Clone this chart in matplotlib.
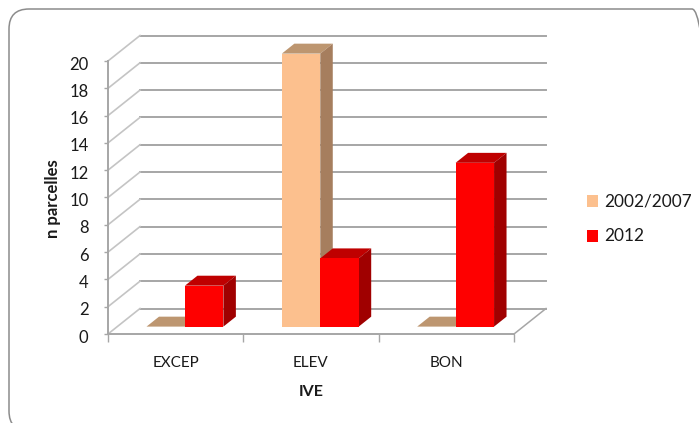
import matplotlib
matplotlib.use("Agg")
import matplotlib.pyplot as plt
from matplotlib.patches import FancyBboxPatch, Polygon, Rectangle
from matplotlib.transforms import IdentityTransform, ScaledTranslation

categories = ["EXCEP", "ELEV", "BON"]
series_names = ["2002/2007", "2012"]
values_2002 = [0, 20, 0]
values_2012 = [3, 5, 12]
y_ticks = [0, 2, 4, 6, 8, 10, 12, 14, 16, 18, 20]

W, H = 699, 423
BAR_W = 0.284          # category units
DEPTH_X = 0.2365       # how far the back wall shifts, category units
DEPTH_Y = 1.868        # same, value units
BAR_NEAR, BAR_FAR = 0.29, 0.68
GRID = "#a6a6a6"
TEXT = "#1a1a1a"

plt.rcParams["font.family"] = ["Lato", "DejaVu Sans"]


def shift(x, y, d):
    """Oblique projection: move a point d of the way back into the chart."""
    return (x + d * DEPTH_X, y + d * DEPTH_Y)


def draw_bar(ax, x, value, front, top, side):
    x0, x1 = x, x + BAR_W
    base = BAR_NEAR * DEPTH_Y
    ax.bar(x0, value, BAR_W, bottom=base, align="edge", color=front, clip_on=False, zorder=4)
    # faces are given in front-plane data coords, then pushed back
    near = lambda px, py: shift(px, py, BAR_NEAR)
    far = lambda px, py: shift(px, py, BAR_FAR)
    x0 -= BAR_NEAR * DEPTH_X
    x1 -= BAR_NEAR * DEPTH_X
    ax.add_patch(Polygon([near(x0, value), near(x1, value), far(x1, value), far(x0, value)],
                         closed=True, fc=top, ec="none", clip_on=False, zorder=3))
    if value > 0:
        ax.add_patch(Polygon([near(x1, 0), far(x1, 0), far(x1, value), near(x1, value)],
                             closed=True, fc=side, ec="none", clip_on=False, zorder=3))


fig = plt.figure(figsize=(W / 100, H / 100), dpi=100)
fig.patch.set_facecolor("white")

# outer rounded frame, runs past the right and bottom edges of the figure
fig.add_artist(FancyBboxPatch((9, H - 431), 703, 422,
                              boxstyle="round,pad=0,rounding_size=20",
                              transform=IdentityTransform(), fc="none", ec="#8c8c8c", lw=1.1))

ax = fig.add_axes([108 / W, 1 - 334 / H, 406 / W, 273 / H])
ax.set_xlim(0, 3)
ax.set_ylim(0, 20)
ax.patch.set_alpha(0)

# back wall gridlines and their diagonals running down to the front axis
for t in y_ticks:
    bx, by = shift(0, t, 1)
    ex, ey = shift(3, t, 1)
    ax.plot([bx, ex], [by, ey], color=GRID, lw=1.4, clip_on=False, zorder=1)
    ax.plot([0, bx], [t, by], color="#c4c4c4", lw=1.2, clip_on=False, zorder=1)

# right edge of the floor
fx, fy = shift(3, 0, 1)
ax.plot([3, fx], [0, fy], color=GRID, lw=1.1, clip_on=False, zorder=1)

for i in range(len(categories)):
    centre = i + 0.5 + BAR_NEAR * DEPTH_X
    draw_bar(ax, centre - BAR_W, values_2002[i], "#fcc08e", "#bd9670", "#a67e5e")
    draw_bar(ax, centre, values_2012[i], "#fe0000", "#bf0000", "#a00000")

for side in ["top", "right"]:
    ax.spines[side].set_visible(False)
for side in ["left", "bottom"]:
    ax.spines[side].set_color(GRID)
    ax.spines[side].set_linewidth(1.4)

ax.set_xticks(range(len(categories) + 1))
ax.set_xticklabels([])
ax.set_xticks([i + 0.5 for i in range(len(categories))], minor=True)
ax.set_xticklabels(categories, minor=True, fontsize=11, color=TEXT)
ax.tick_params(axis="x", which="minor", length=0, pad=16)
ax.tick_params(axis="x", which="major", length=6, color=GRID, width=1)
ax.set_yticks(y_ticks)
ax.tick_params(axis="y", length=3, color=GRID, width=1, labelsize=12, labelcolor=TEXT, pad=11)

# nudge the value labels down a little relative to their ticks
nudge = ScaledTranslation(0, -1.5 / 72, fig.dpi_scale_trans)
for label in ax.get_yticklabels():
    label.set_transform(label.get_transform() + nudge)

fig.text(53 / W, 1 - 199 / H, "n parcelles", rotation=90, ha="center", va="center",
         fontsize=12, fontweight="bold", color=TEXT)
fig.text(311 / W, 1 - 392 / H, "IVE", ha="center", va="center",
         fontsize=11.5, fontweight="bold", color=TEXT)

# legend
for name, color, y in zip(series_names, ["#fcc08e", "#fe0000"], [201, 236]):
    fig.add_artist(Rectangle((587 / W, 1 - (y + 6) / H), 11 / W, 12 / H,
                             transform=fig.transFigure, fc=color, ec="none"))
    fig.text(604 / W, 1 - y / H, name, ha="left", va="center", fontsize=12.4, color=TEXT)

fig.savefig("out.png", dpi=100)
